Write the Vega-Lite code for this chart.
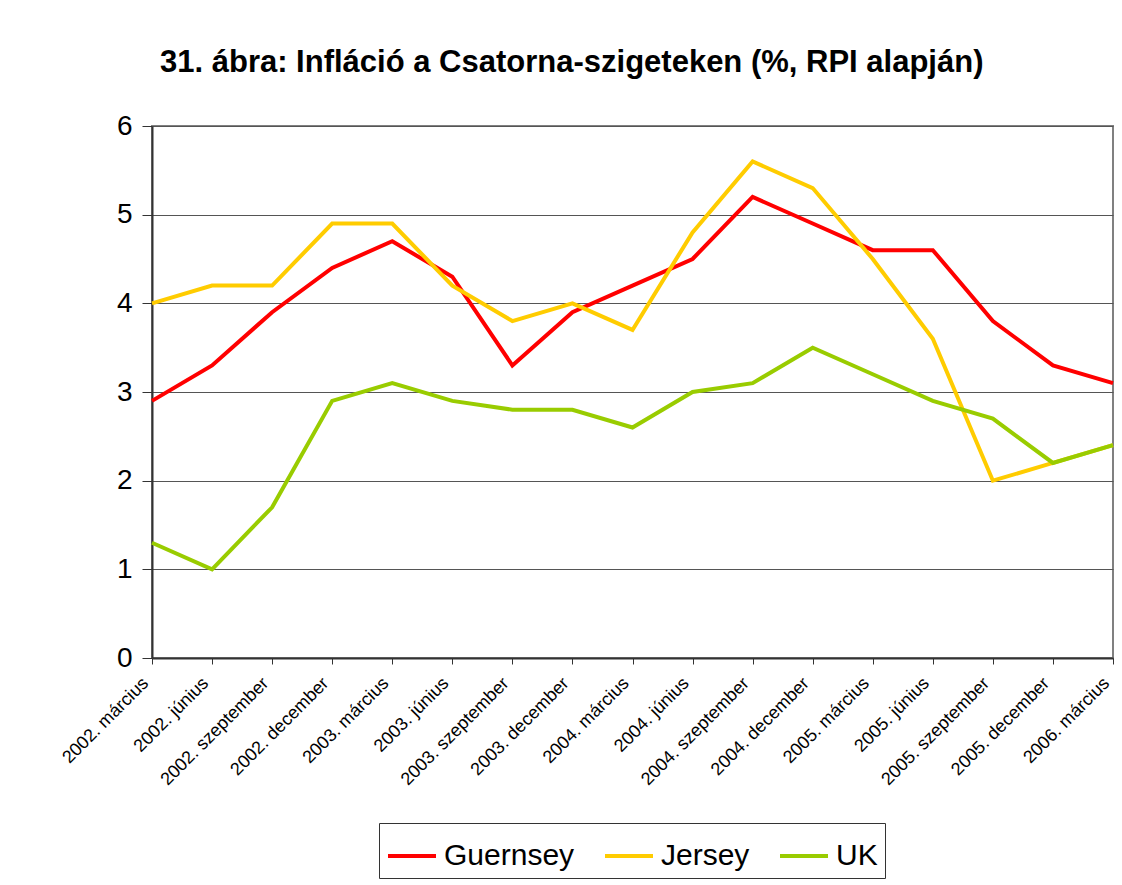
{
  "$schema": "https://vega.github.io/schema/vega-lite/v6.json",
  "width": 961,
  "height": 532,
  "autosize": {"type": "none"},
  "padding": {"left": 152, "top": 126, "right": 9, "bottom": 227},
  "background": "white",
  "title": {
    "text": "31. ábra: Infláció a Csatorna-szigeteken (%, RPI alapján)",
    "anchor": "start",
    "frame": "group",
    "dx": 8,
    "offset": 33,
    "font": "Liberation Sans",
    "fontSize": 31,
    "fontWeight": "bold",
    "color": "#000000"
  },
  "config": {
    "view": {"stroke": "#808080", "strokeWidth": 2},
    "font": "Liberation Sans"
  },
  "data": {
    "values": [
      {"month": "2002. március", "series": "Guernsey", "value": 2.9},
      {"month": "2002. június", "series": "Guernsey", "value": 3.3},
      {"month": "2002. szeptember", "series": "Guernsey", "value": 3.9},
      {"month": "2002. december", "series": "Guernsey", "value": 4.4},
      {"month": "2003. március", "series": "Guernsey", "value": 4.7},
      {"month": "2003. június", "series": "Guernsey", "value": 4.3},
      {"month": "2003. szeptember", "series": "Guernsey", "value": 3.3},
      {"month": "2003. december", "series": "Guernsey", "value": 3.9},
      {"month": "2004. március", "series": "Guernsey", "value": 4.2},
      {"month": "2004. június", "series": "Guernsey", "value": 4.5},
      {"month": "2004. szeptember", "series": "Guernsey", "value": 5.2},
      {"month": "2004. december", "series": "Guernsey", "value": 4.9},
      {"month": "2005. március", "series": "Guernsey", "value": 4.6},
      {"month": "2005. június", "series": "Guernsey", "value": 4.6},
      {"month": "2005. szeptember", "series": "Guernsey", "value": 3.8},
      {"month": "2005. december", "series": "Guernsey", "value": 3.3},
      {"month": "2006. március", "series": "Guernsey", "value": 3.1},
      {"month": "2002. március", "series": "Jersey", "value": 4.0},
      {"month": "2002. június", "series": "Jersey", "value": 4.2},
      {"month": "2002. szeptember", "series": "Jersey", "value": 4.2},
      {"month": "2002. december", "series": "Jersey", "value": 4.9},
      {"month": "2003. március", "series": "Jersey", "value": 4.9},
      {"month": "2003. június", "series": "Jersey", "value": 4.2},
      {"month": "2003. szeptember", "series": "Jersey", "value": 3.8},
      {"month": "2003. december", "series": "Jersey", "value": 4.0},
      {"month": "2004. március", "series": "Jersey", "value": 3.7},
      {"month": "2004. június", "series": "Jersey", "value": 4.8},
      {"month": "2004. szeptember", "series": "Jersey", "value": 5.6},
      {"month": "2004. december", "series": "Jersey", "value": 5.3},
      {"month": "2005. március", "series": "Jersey", "value": 4.5},
      {"month": "2005. június", "series": "Jersey", "value": 3.6},
      {"month": "2005. szeptember", "series": "Jersey", "value": 2.0},
      {"month": "2005. december", "series": "Jersey", "value": 2.2},
      {"month": "2006. március", "series": "Jersey", "value": 2.4},
      {"month": "2002. március", "series": "UK", "value": 1.3},
      {"month": "2002. június", "series": "UK", "value": 1.0},
      {"month": "2002. szeptember", "series": "UK", "value": 1.7},
      {"month": "2002. december", "series": "UK", "value": 2.9},
      {"month": "2003. március", "series": "UK", "value": 3.1},
      {"month": "2003. június", "series": "UK", "value": 2.9},
      {"month": "2003. szeptember", "series": "UK", "value": 2.8},
      {"month": "2003. december", "series": "UK", "value": 2.8},
      {"month": "2004. március", "series": "UK", "value": 2.6},
      {"month": "2004. június", "series": "UK", "value": 3.0},
      {"month": "2004. szeptember", "series": "UK", "value": 3.1},
      {"month": "2004. december", "series": "UK", "value": 3.5},
      {"month": "2005. március", "series": "UK", "value": 3.2},
      {"month": "2005. június", "series": "UK", "value": 2.9},
      {"month": "2005. szeptember", "series": "UK", "value": 2.7},
      {"month": "2005. december", "series": "UK", "value": 2.2},
      {"month": "2006. március", "series": "UK", "value": 2.4}
    ]
  },
  "mark": {"type": "line", "strokeWidth": 4},
  "encoding": {
    "x": {
      "field": "month",
      "type": "ordinal",
      "sort": null,
      "scale": {"type": "point", "padding": 0},
      "axis": {
        "title": null,
        "labelAngle": -45,
        "labelFontSize": 18,
        "labelColor": "#000000",
        "labelPadding": 10,
        "labelOffset": -13,
        "labelOverlap": false,
        "tickSize": 6,
        "tickColor": "#333333",
        "domainColor": "#333333",
        "domainWidth": 2,
        "grid": false
      }
    },
    "y": {
      "field": "value",
      "type": "quantitative",
      "scale": {"domain": [0, 6], "nice": false},
      "axis": {
        "title": null,
        "values": [0, 1, 2, 3, 4, 5, 6],
        "labelFontSize": 28,
        "labelColor": "#000000",
        "labelPadding": 10,
        "tickSize": 10,
        "tickColor": "#333333",
        "domainColor": "#333333",
        "domainWidth": 2,
        "grid": true,
        "gridColor": "#555555",
        "gridWidth": 1
      }
    },
    "color": {
      "field": "series",
      "type": "nominal",
      "scale": {"domain": ["Guernsey", "Jersey", "UK"], "range": ["#FF0000", "#FFCC00", "#99CC00"]},
      "legend": {
        "title": null,
        "orient": "none",
        "legendX": 227,
        "legendY": 697,
        "direction": "horizontal",
        "symbolType": "stroke",
        "symbolSize": 2304,
        "symbolStrokeWidth": 4,
        "labelFontSize": 30,
        "labelColor": "#000000",
        "labelOffset": 6,
        "columnPadding": 22,
        "padding": 7,
        "strokeColor": "#333333",
        "labelLimit": 300
      }
    }
  }
}
